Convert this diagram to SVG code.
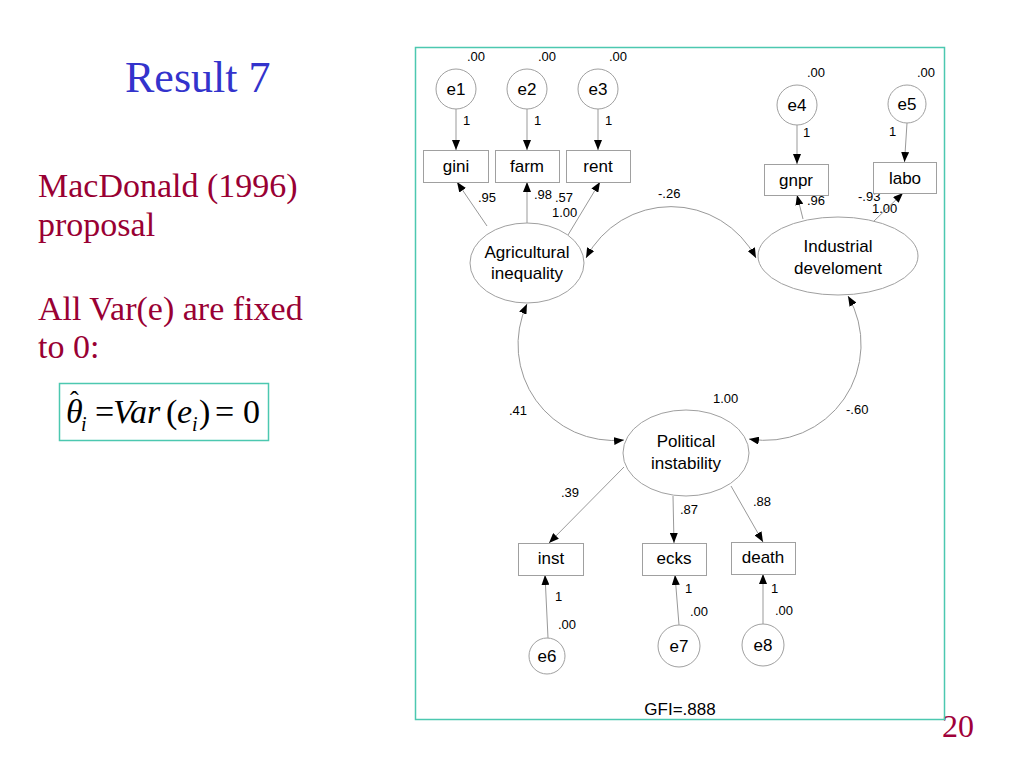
<svg xmlns="http://www.w3.org/2000/svg" width="1024" height="768" viewBox="0 0 1024 768">
<defs>
<marker id="ah" viewBox="0 0 10 8" refX="10" refY="4" markerWidth="10" markerHeight="8" markerUnits="userSpaceOnUse" orient="auto-start-reverse">
<path d="M0,0 L10,4 L0,8 z" fill="#000"/>
</marker>
<style>
.slide{font-family:"Liberation Serif","Times New Roman",serif}
.t{font-family:"Liberation Sans",Arial,sans-serif;fill:#000}
.n{font-size:17px;text-anchor:middle}
.v{font-size:13px}
.sh{fill:#fff;stroke:#a0a0a0;stroke-width:1}
.ln{fill:none;stroke:#999;stroke-width:1}
.ar{marker-end:url(#ah)}
.cv{marker-start:url(#ah);marker-end:url(#ah)}
.frame{fill:none;stroke:#4cc8b0;stroke-width:1.5}
.red{fill:#990033;font-size:34px}
.m{font-size:34px;fill:#000}
.it{font-style:italic}
</style>
</defs>
<rect width="1024" height="768" fill="#fff"/>

<!-- slide text -->
<text class="slide" x="125" y="92" font-size="44" fill="#3333cc">Result 7</text>
<text class="slide red" x="38" y="197">MacDonald (1996)</text>
<text class="slide red" x="38" y="236">proposal</text>
<text class="slide red" x="38" y="320">All Var(e) are fixed</text>
<text class="slide red" x="38" y="358">to 0:</text>
<rect class="frame" x="59.5" y="383.5" width="209" height="57"/>
<text class="slide m"><tspan class="it" x="66" y="423">θ</tspan><tspan x="70" y="409" font-size="26">ˆ</tspan><tspan class="it" x="81" y="431" font-size="20">i</tspan><tspan x="95" y="423">=</tspan><tspan class="it" x="113" y="423">Var</tspan><tspan x="166" y="423">(</tspan><tspan class="it" x="177" y="423">e</tspan><tspan class="it" x="192" y="431" font-size="20">i</tspan><tspan x="199" y="423">)</tspan><tspan x="215" y="423">=</tspan><tspan x="243" y="423">0</tspan></text>
<text class="slide" x="942" y="737" font-size="32" fill="#a0003a">20</text>

<!-- diagram frame -->
<rect class="frame" x="415.5" y="47.5" width="529" height="672"/>

<!-- connectors -->
<g id="connectors">
<line class="ln ar" x1="456" y1="109" x2="456" y2="150"/>
<line class="ln ar" x1="527" y1="109" x2="527" y2="150"/>
<line class="ln ar" x1="598" y1="109" x2="598" y2="150"/>
<line class="ln ar" x1="797" y1="125" x2="797" y2="164"/>
<line class="ln ar" x1="907" y1="123" x2="904.5" y2="162"/>
<line class="ln ar" x1="487" y1="226" x2="457" y2="182"/>
<line class="ln ar" x1="527" y1="223" x2="527" y2="182"/>
<line class="ln ar" x1="568" y1="235" x2="600" y2="182"/>
<line class="ln ar" x1="803" y1="219" x2="797" y2="195"/>
<line class="ln ar" x1="873" y1="222" x2="903" y2="193"/>
<path class="ln cv" d="M586,258 A96,96 0 0 1 756,258"/>
<path class="ln cv" d="M527,304 A96,96 0 0 0 624,440"/>
<path class="ln cv" d="M848,296 A96,96 0 0 1 749,439"/>
<line class="ln ar" x1="624" y1="467" x2="549" y2="543"/>
<line class="ln ar" x1="673" y1="496" x2="674" y2="543"/>
<line class="ln ar" x1="731" y1="486" x2="763" y2="542"/>
<line class="ln ar" x1="548" y1="638" x2="545" y2="575"/>
<line class="ln ar" x1="679" y1="625" x2="675" y2="575"/>
<line class="ln ar" x1="763" y1="624" x2="763" y2="574"/>
</g>

<!-- path labels -->
<g class="t v">
<text x="467" y="61">.00</text>
<text x="538" y="61">.00</text>
<text x="609" y="61">.00</text>
<text x="807" y="77">.00</text>
<text x="917" y="77">.00</text>
<text x="463" y="125">1</text>
<text x="534" y="125">1</text>
<text x="605" y="125">1</text>
<text x="803" y="137">1</text>
<text x="889" y="136">1</text>
<text x="478" y="202">.95</text>
<text x="534" y="199">.98</text>
<text x="555" y="202">.57</text>
<text x="552" y="217">1.00</text>
<text x="658" y="198">-.26</text>
<text x="807" y="205">.96</text>
<text x="858" y="201">-.93</text>
<text x="872" y="213">1.00</text>
<text x="713" y="403">1.00</text>
<text x="509" y="415">.41</text>
<text x="846" y="414">-.60</text>
<text x="561" y="497">.39</text>
<text x="680" y="514">.87</text>
<text x="753" y="506">.88</text>
<text x="555" y="601">1</text>
<text x="558" y="629">.00</text>
<text x="685" y="593">1</text>
<text x="690" y="616">.00</text>
<text x="771" y="593">1</text>
<text x="775" y="615">.00</text>
</g>

<!-- nodes -->
<g id="e1"><circle class="sh" cx="456" cy="89" r="20"/><text class="t n" x="456" y="95">e1</text></g>
<g id="e2"><circle class="sh" cx="527" cy="89" r="20"/><text class="t n" x="527" y="95">e2</text></g>
<g id="e3"><circle class="sh" cx="598" cy="89" r="20"/><text class="t n" x="598" y="95">e3</text></g>
<g id="e4"><circle class="sh" cx="797" cy="105" r="20"/><text class="t n" x="797" y="111">e4</text></g>
<g id="e5"><circle class="sh" cx="907" cy="104" r="19"/><text class="t n" x="907" y="110">e5</text></g>
<g id="gini"><rect class="sh" x="423.5" y="150.5" width="65" height="32"/><text class="t n" x="456" y="172">gini</text></g>
<g id="farm"><rect class="sh" x="495.5" y="150.5" width="64" height="32"/><text class="t n" x="527" y="172">farm</text></g>
<g id="rent"><rect class="sh" x="566.5" y="150.5" width="64" height="32"/><text class="t n" x="598" y="172">rent</text></g>
<g id="gnpr"><rect class="sh" x="764.5" y="164.5" width="64" height="31"/><text class="t n" x="796" y="186">gnpr</text></g>
<g id="labo"><rect class="sh" x="873.5" y="162.5" width="63" height="31"/><text class="t n" x="905" y="184">labo</text></g>
<g id="agri"><ellipse class="sh" cx="527" cy="263" rx="57" ry="40"/><text class="t n" x="527" y="258">Agricultural</text><text class="t n" x="527" y="279">inequality</text></g>
<g id="indu"><ellipse class="sh" cx="838" cy="256" rx="80" ry="39"/><text class="t n" x="838" y="252">Industrial</text><text class="t n" x="838" y="274">develoment</text></g>
<g id="poli"><ellipse class="sh" cx="686" cy="453" rx="63" ry="43"/><text class="t n" x="686" y="447">Political</text><text class="t n" x="686" y="469">instability</text></g>
<g id="inst"><rect class="sh" x="518.5" y="543.5" width="65" height="32"/><text class="t n" x="551" y="564">inst</text></g>
<g id="ecks"><rect class="sh" x="642.5" y="543.5" width="64" height="32"/><text class="t n" x="674" y="564">ecks</text></g>
<g id="death"><rect class="sh" x="731.5" y="542.5" width="64" height="32"/><text class="t n" x="763" y="563">death</text></g>
<g id="e6"><circle class="sh" cx="547" cy="656" r="18"/><text class="t n" x="547" y="662">e6</text></g>
<g id="e7"><circle class="sh" cx="679" cy="646" r="21"/><text class="t n" x="679" y="652">e7</text></g>
<g id="e8"><circle class="sh" cx="763" cy="645" r="21"/><text class="t n" x="763" y="651">e8</text></g>
<text class="t" x="680" y="715" font-size="17" text-anchor="middle">GFI=.888</text>
</svg>
